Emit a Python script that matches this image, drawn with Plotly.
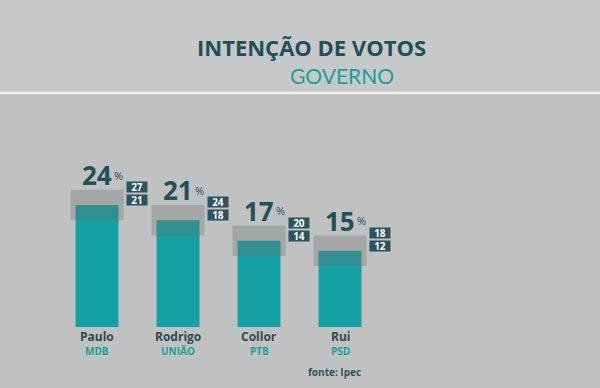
import plotly.graph_objects as go

candidates = ["Paulo", "Rodrigo", "Collor", "Rui"]
parties = ["MDB", "UNIÃO", "PTB", "PSD"]
values = [24, 21, 17, 15]
upper = [27, 24, 20, 18]
lower = [21, 18, 14, 12]

TEAL = "#15a0a3"
DARK = "#22505b"
FONT = "Open Sans"

xs = list(range(len(candidates)))

fig = go.Figure()
fig.add_trace(go.Bar(x=xs, y=values, width=0.53, marker=dict(color=TEAL, line=dict(width=0)),
                     hoverinfo="skip"))
fig.add_trace(go.Bar(x=xs, y=[u - l for u, l in zip(upper, lower)], base=lower, width=0.655,
                     marker=dict(color="rgba(108,108,108,0.32)", line=dict(width=0)),
                     hoverinfo="skip"))

ann = []
for i, (c, p, v, u, l) in enumerate(zip(candidates, parties, values, upper, lower)):
    ann.append(dict(x=i, y=v, xref="x", yref="y", text=f"<b>{v}</b>", showarrow=False,
                    xanchor="center", yanchor="middle",
                    yshift=30, font=dict(family=FONT, size=26, color=DARK)))
    ann.append(dict(x=i, y=v, xref="x", yref="y", text="%", showarrow=False,
                    xanchor="center", yanchor="middle",
                    xshift=21, yshift=30, font=dict(family=FONT, size=11, color=DARK)))
    ann.append(dict(x=i, y=v, xref="x", yref="y", text=f"<b>{u}</b>", showarrow=False,
                    xanchor="center", yanchor="middle",
                    xshift=40, yshift=18, width=20, height=10, bgcolor="#2a5560",
                    borderpad=0, font=dict(family=FONT, size=10, color="white")))
    ann.append(dict(x=i, y=v, xref="x", yref="y", text=f"<b>{l}</b>", showarrow=False,
                    xanchor="center", yanchor="middle",
                    xshift=40, yshift=5, width=20, height=10, bgcolor="#2a5560",
                    borderpad=0, font=dict(family=FONT, size=10, color="white")))
    ann.append(dict(x=i, y=0, xref="x", yref="y", text=f"<b>{c}</b>", showarrow=False,
                    xanchor="center", yanchor="middle",
                    yshift=-9, font=dict(family=FONT, size=12, color="#2e4a52")))
    ann.append(dict(x=i, y=0, xref="x", yref="y", text=f"<b>{p}</b>", showarrow=False,
                    xanchor="center", yanchor="middle",
                    yshift=-24, font=dict(family=FONT, size=10, color="#1a9ea2")))

ann.append(dict(x=311 / 600, y=1 - 47 / 388, xref="paper", yref="paper",
                text="<b>INTENÇÃO DE VOTOS</b>", showarrow=False,
                xanchor="center", yanchor="middle",
                font=dict(family=FONT, size=22, color="#1f4f5a", weight=800)))
ann.append(dict(x=342 / 600, y=1 - 76 / 388, xref="paper", yref="paper",
                text="GOVERNO", showarrow=False,
                xanchor="center", yanchor="middle",
                font=dict(family="Lato", size=21, color="#1a9ea2")))
ann.append(dict(x=334 / 600, y=1 - 372 / 388, xref="paper", yref="paper",
                text="<b>fonte: Ipec</b>", showarrow=False,
                xanchor="center", yanchor="middle",
                font=dict(family=FONT, size=10, color="#2a5560")))

fig.update_layout(
    width=600, height=388,
    margin=dict(l=0, r=0, t=0, b=0),
    paper_bgcolor="#c0c1c1", plot_bgcolor="rgba(0,0,0,0)",
    barmode="overlay", showlegend=False,
    xaxis=dict(range=[-1.198, 6.21], visible=False, fixedrange=True),
    yaxis=dict(range=[-12.0, 64.37], visible=False, fixedrange=True),
    annotations=ann,
    shapes=[
        dict(type="rect", xref="paper", yref="paper", x0=0, x1=1, y0=1 - 93 / 388, y1=1,
             fillcolor="#c7c8c8", line=dict(width=0), layer="below"),
        dict(type="line", xref="paper", yref="paper", x0=0, x1=1, y0=1 - 93 / 388, y1=1 - 93 / 388,
             line=dict(color="#f2f2f2", width=2.5)),
    ],
)

fig.write_html("out.html", config={"displayModeBar": False},
               post_script="document.body.style.margin='0';document.body.style.overflow='hidden';")
